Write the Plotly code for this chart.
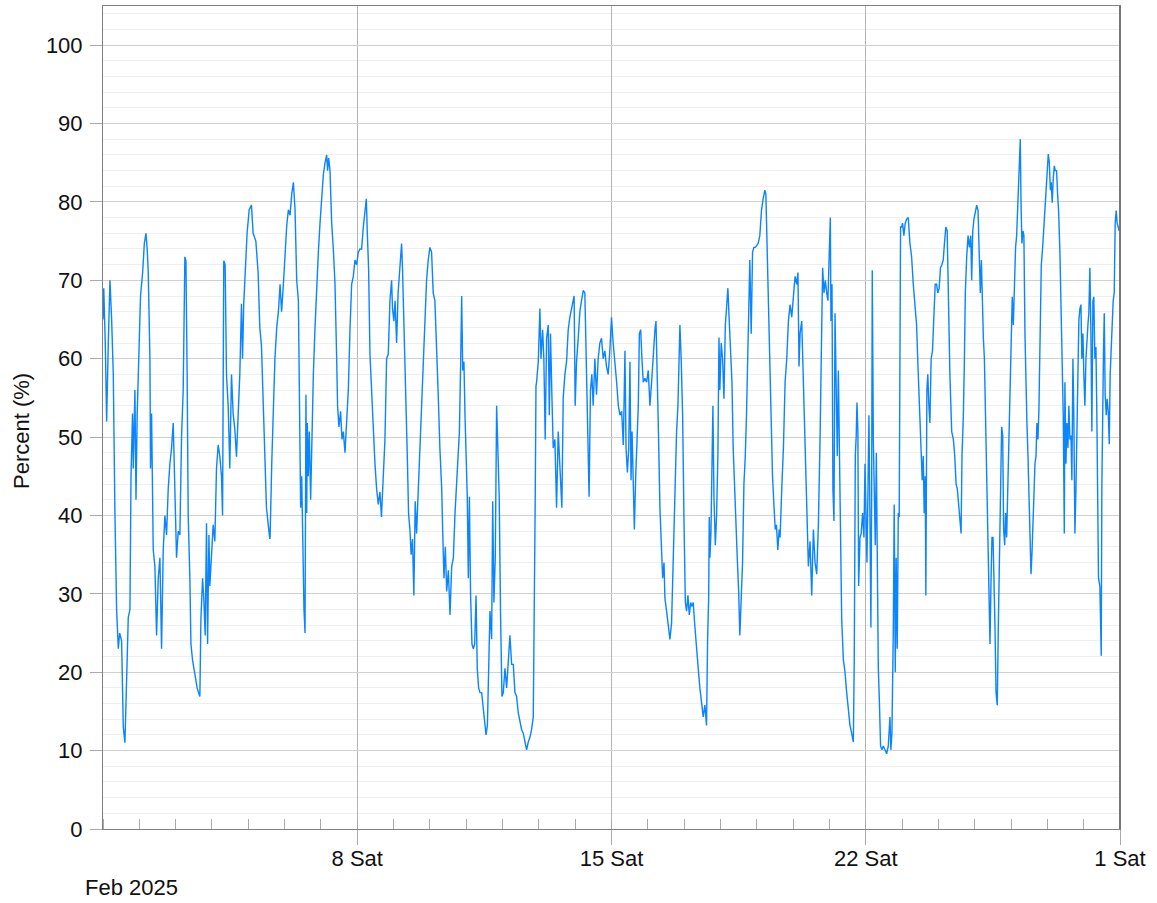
import pandas as pd
import plotly.graph_objects as go

START = "2025-02-01 00:00"

# Hours since start and percent readings, in six consecutive segments
hours_a = [0,0.5,1.5,2.4,3.5,4.6,5.7,6.8,7.9,9,10.1,11,12.3,13.4,14.5,15.6,16.7,17.8,18.5,19.5,20,21.1,21.8,22.6,24,24.8,26.2,27.3,28.4,29.2,29.9,31,31.4,32.1,33.2,34.3,35.4,36.5,37.6,38.7,39.8,40.9,42,43.1,44.2,45.3,46.4,47.5,48.6,49.7,50.8,51.9,53,54.1,54.8,55.6,56.3,57.4,58.1,59.2,60.7,62.2,64,64.7,65.8,66.6,67.5,68.4,69.1,70,70.6,71.7,72.8,73.9,75,76.1,77.2,78.3,79,79.8,80.7,81.6,82.7,83.8,84.9,86,87.1,88.2,89.3,90.4,91.5,92.2,93,94.1,95.2,96.6,98.1,99.2,101,102.5,103.6,104.7,105.8,106.9,108,109.1,110.2]
pct_a = [65,69,62,52,62,70,65,58,40,28,23,25,24,13,11,21,27,28,45,53,46,56,42,53,63,68,71,74.7,76,74,71,60,46,53,35.6,33.5,24.7,32,34.6,23,35.6,40,37.5,43.4,46.6,48.6,51.8,42,34.6,38,37.5,50,56,73,72.5,58,40,32,23.6,21.5,19.5,18,16.9,26.8,32,29.4,24.7,39,23.6,37.5,31,35,38.8,36.7,46,49,47.5,45,40,72.5,72,58,54,46,58,53,51,47.5,53,58,67,60,67,71,76,79,79.6,76,75,71,64,61.7,55.4,46.6,41,39,37]

hours_b = [110.4,111.5,112.5,113.6,114.8,115.9,117,118,119.2,120.3,121.4,122.5,123.6,124.7,125.8,126.9,128,129.1,129.7,130.6,131.3,131.9,132.8,133.5,134.1,134.6,135,135.6,136.3,137.2,137.9,139,140.1,141.2,142.3,143.4,144.5,145.6,146.7,147.8,148.4,149.1,150,151.1,152.2,153.3,154.4,155,155.9,157,157.9,158.8,159.9,161,162.1,163.2,164.3,165.4,166.5,167.6,168.7,169.8,170.9,172,173.1,174,174.6,175.5,176.4,177.5,178.6,179.7,180.8,181.9,183,184,185.2,186.3,187.4,188.5,189.6,190.7,191.3,192.2,193,194,195,196.2,197.3,197.9,198.8,199.7,200.6,201.2,201.9,202.8,203.6,204.5,205.4,206.3,207.2,208.3,209.4,210.4,211.5,212.7,213.8,214.9,216,217.1,218.2,219.3,220.4,221.5,222.6]
pct_b = [37.2,46.6,52.8,60,64,66,69.5,66,69.5,74,77,79,78.3,81,82.5,79,70,67.4,55.4,41,45,37,28,25,55.4,40.3,51.8,45,50.7,42,48.6,58,64,69.5,73.6,77.3,81,83.5,85,86,84,85.6,84,77.3,74,69.5,60,54,51.3,53.3,49.7,50.7,48,52.8,56,63.7,69.5,70.5,72.6,72,73.6,74,74,76.8,79,80.4,76.3,71.5,60.6,56,50.2,46.6,43.4,41.4,43,39.8,45,49.7,60,60.6,67.4,70,66.4,64.8,67.4,62,68.4,72,74.7,71.5,65.3,58,51.8,46.6,40.3,38.2,35,37,29.8,41.8,37.7,43.4,49.7,53.3,58.5,65.3,70,72.6,74.2,73.6,68.4,67.4,60,55.4,48.6]

hours_c = [223.8,224.5,225.3,226.2,227.1,228.2,229.3,230.4,231.5,232.6,233.7,234.8,235.5,236.3,237,237.7,238.5,239.2,239.9,240.7,241.4,242.1,242.9,243.8,244.7,245.6,246.5,247.3,248.2,249.1,250.2,251.3,252.2,253.1,254,254.8,255.7,256.8,257.5,258.3,259.2,260.1,261,261.8,262.7,263.6,264.5,265.6,266.7,267.8,268.9,270,271.1,272.2,273.3,274.4,275.5,276.6,277.7,278.8,279.9,281,282.1,283.2,284.3,284.7,285.2,285.6,286.1,286.5,287.6,288.7,289.4,290.5,291.3,292.2,293.1,294.2,294.9,295.7,296.6,297.5,298.6,299.7,300.8,301.9,303.2,304.1,305.2,306.3,307.4,308.5,309.6,310.7,311.3,312,312.9,314,315.1,316.2,317.3,318.4,319.5,320.4,321.2,322.1,323,323.9,325,326.1,327.2,328.3,329.4,330.5,331.6,332.7,333.8,334.9,336,337.1,338.2]
pct_c = [43.4,37.7,32,36,30.3,33,27.3,33.5,34.6,40.3,44,48,50.7,59,68,58.5,59.6,52.8,47.6,42.4,32,42.4,29.8,23.6,23,23.6,29.8,20.5,18,17.4,17.4,15.4,13.2,12,13.2,21.6,27.8,24.2,41.8,28.9,34.6,54,47.6,42.4,27.3,16.9,17.4,20.5,18,21.6,24.7,21,21,17.4,16.9,14.8,13.8,12.7,12.2,11.1,10.1,11.1,11.7,12.7,14.3,22.6,29.8,42.4,56.5,57,59.6,66.4,60,63.7,60,49.7,62.6,64.3,52.8,63.2,55.4,48.6,49.7,41,50.7,46.6,41,55,58,59.6,63.7,65.3,66.4,67.4,68,54,59.6,62.6,66,67.4,68.7,68.4,56.5,49.7,42.4,56,58,54,60,55.4,60,62,62.6,60,61,59,58,61,65.3,62,60]

hours_d = [339.4,340.5,341.6,342.7,343.8,344.9,345.6,346.5,347.4,348.2,348.9,349.6,350.4,351.1,352,352.6,353.7,354.4,355.3,356.1,357,358.1,359.2,360.3,361.4,362.5,363.6,364.7,365.4,366.3,366.9,368,369.1,369.8,370.7,371.3,372.4,373.5,374.6,375.7,376.8,377.9,379,379.9,380.8,381.2,382.1,383,383.9,384.8,385.6,386.5,387.4,388.3,389.2,390,391.1,392.2,393.3,394.4,395.5,396.6,397.7,398.8,399.5,400.2,400.6,401,401.7,402.4,403,403.7,404.6,405.4,406.3,407,407.6,408.5,409.4,410.3,411.2,412,412.9,413.8,414.7,415.6,416.4,417.3,418.2,419.1,420,420.8,421.7,422.6,423.5,424.4,425.2,426.1,427,427.4,428.3,429.2,430.1,431,431.8,432.9,434,435.1,436.2,437.3,438,438.9,439.5,440.6,441.5,442.4,443.3,444.2,445,445.9,446.8]
pct_d = [57,54,52.8,53.3,49,61,48.6,45.5,48.6,59.6,44.5,50.7,42.4,38.2,45,48.6,54,63.2,63.7,60,57,57.5,57,58.5,54,57,60.6,63.7,64.8,58,51.8,41,34,32,34,29.4,27.8,25.8,24.2,26.3,35.6,44,50.7,54,60,64.3,59.6,52.8,39.3,28.9,27.8,29.8,27.3,28.9,28.4,28.9,25.8,22.6,20.5,18,15.8,14.3,15.8,13.2,24.2,29.4,39.8,34.6,37.7,47.6,54,42.4,36.2,39.8,47.6,62.7,56,62,60,54.9,64.3,66.4,69,64.8,61,57,48.6,43.4,37.2,34.6,30.4,24.7,29.4,34,44,47.6,52.8,61,68.4,72.6,63.2,73.6,74.2,74.2,74.4,74.7,75.7,78.9,80.4,81.5,81,73.6,67.4,57,49.7,45,41.4,38.2,38.8,35.6,38.2]

hours_e = [447.4,448.5,449.6,450.7,451.8,452.9,454,455.1,456.2,457.3,458.4,459.2,459.9,460.6,461.7,462.8,463.9,465,466.1,467.2,468.3,469.4,470.5,471.6,472.7,473.8,474.9,475.5,476.4,477.3,478.2,479,479.9,480.6,481,481.7,482.3,483,483.7,484.3,485.2,485.9,486.5,487.4,488.1,489.2,490.3,491.4,492.5,493.6,494.7,495.8,496.4,497.1,497.7,498.2,498.8,499.3,500.2,501,501.9,502.8,503.5,504.1,504.8,505.4,506.1,506.8,507.4,507.9,508.3,509,509.6,510.3,511,511.6,512.3,513,513.8,514.7,515.6,516.7,517.8,518.9,520,520.6,521.3,522.2,522.8,523.5,524.1,524.8,525.5,526.1,526.6,527,527.7,528.3,529.2,530.1,531,532.1,533.2,534.3,535.4,536.5,537.6,538.4,539.1,539.8,540.6,541.3,542,542.6,543.3,543.7,544.4,545,545.7,546.4,547.2,548.1,549,549.9,550.8,551.6,552.5,553.4,554.3,555.2,556,556.9,557.8,558.7,559.6]
pct_e = [37.2,43.4,48.6,57,60,64.8,66.9,65.3,68.4,70.5,69.5,71,59,63.2,64.8,56,47.6,38.8,33.5,36.7,29.8,38.2,34,32.5,38.8,49.7,67.4,71.6,68.4,70,68.4,67.4,73.6,78,64.8,69.5,43.4,39.3,65.8,58,47.6,58.5,50.2,35,26.8,21.6,20,17.4,14.8,13.2,12.2,11.1,21.6,47.6,50.2,54.4,50.7,31,37.2,37.7,40.3,37.2,46.6,39.3,34,42.4,52.8,39.3,25.7,42.4,71.3,49.7,43.4,36.2,48,27.8,20.5,16.4,10.6,10.1,10.6,10.1,9.6,10.6,14.3,10.1,12.2,25.2,41.4,20,34.6,23,40.3,39.8,55.4,76.8,76.8,77.3,75.7,77.3,77.8,78,74.7,73,69.5,66.9,64.3,59.6,56,52.8,49.7,44.5,47.6,40.3,45,29.8,56,58,54,51.8,60,61,65.3,69.5,69.5,68.4,69,71.6,72,72.6,74.7,76.8,76.3,66.9,58]

hours_f = [560.8,561.9,562.8,563.7,564.5,565.4,566.3,567,567.6,568.5,569.2,569.8,570.7,571.6,572.5,573.4,574,574.7,575.5,576.4,577.3,578.2,579,579.7,580.4,581,581.7,582.4,583,583.9,584.6,585.2,586.1,586.8,587.4,588.1,588.7,589.4,590.1,590.9,591.6,592.3,593.1,593.8,594.5,595.1,595.8,596.4,597.1,597.8,598.4,599.3,600.2,600.8,601.5,602.4,603,603.7,604.4,605,605.7,606.1,606.6,607.2,607.9,608.5,609.2,609.9,610.5,611.2,611.8,612.5,613.2,613.8,614.5,615.1,615.8,616.5,617.1,617.8,618.4,619.1,620,620.9,621.7,622.4,623.1,623.9,624.6,625.3,626,626.6,627.2,627.9,628.6,629.2,630.1,630.8,631.4,632.3,633.2,633.8,634.5,635.2,635.6,636.3,636.9,637.6,638.2,638.9,639.6,640.2,640.9,641.5,642.2,642.9,643.5,644.2,644.8,645.5,646.2,646.8,647.5,648.1,648.8,649.5,650.1,650.8,651.4,652.1,652.8,653.4,654.1,654.7,655.4,656.1,656.7,657.2,657.8,658.7,659.6,660,660.5,661.1,661.6,662.2,662.9,663.5,664.2,664.9,665.5,666.2,666.8,667.5,668.2,668.8,669.5,670.1,670.8,671.4,672]
pct_f = [50.7,49.7,47.6,44,43.4,41.4,40.3,37.7,47.6,52.8,60,68.4,73,75.7,74.2,75.7,70,76.3,77.8,78.9,79.6,78.9,74.2,68.4,72.6,67.4,62.7,60,53.9,45.5,34,28.4,23.6,32,37.2,37.2,32.5,25.8,17.4,15.8,25.8,34,46.1,51.3,50.2,38.2,36.2,40.3,37.2,43.4,46.6,58,65.3,67.9,64.3,72.6,74.2,75.7,78.9,82,86.7,88,79.9,74.7,76.3,75.7,63.2,55.9,51.8,47.6,42.4,35.6,32.5,35,38.2,42.4,46.6,47.6,51.8,49.7,53.3,63.2,72,74.2,76.8,78.3,80.4,84,86.1,85,81.5,82.5,79.9,83,84.6,84,84,80.9,78.9,73.6,66.4,60,52.8,37.7,57,46.6,51.8,48.6,54,49.7,50.2,44.5,60,52.8,37.7,43.4,50.2,61.5,64.8,66.4,66.9,60,63.2,58,54,60,63.2,64.3,65.8,71.6,63.2,50.7,67.4,67.9,60,61.5,52.8,39.8,32,31,22.1,43.4,58,61,65.8,55.4,52.8,54.9,53.3,49.1,58,61.5,65.3,67.4,68.4,77.3,78.9,77.3,76.8,76.3,76.6]

week_ticks = ["2025-02-08", "2025-02-15", "2025-02-22", "2025-03-01"]
week_labels = ["8 Sat", "15 Sat", "22 Sat", "1 Sat"]
month_label = "Feb 2025"
y_title = "Percent (%)"

segments = [(hours_a, pct_a), (hours_b, pct_b), (hours_c, pct_c),
            (hours_d, pct_d), (hours_e, pct_e), (hours_f, pct_f)]
hrs, vals = [], []
for h, v in segments:
    n = min(len(h), len(v))
    hrs += h[:n]
    vals += v[:n]

times = pd.Timestamp(START) + pd.to_timedelta(hrs, unit="h")

FONT = "Liberation Sans, Arial, Helvetica, sans-serif"
FS = 22

fig = go.Figure(go.Scatter(x=times, y=vals, mode="lines",
                           line=dict(color="#0A84FF", width=1.4),
                           hoverinfo="x+y"))

fig.update_layout(
    width=1157, height=903,
    margin=dict(l=103, r=37, t=6, b=74),
    plot_bgcolor="white", paper_bgcolor="white",
    font=dict(family=FONT, size=FS, color="#111111"),
    showlegend=False,
)

fig.update_xaxes(
    type="date", range=["2025-02-01", "2025-03-01"],
    tickmode="array", tickvals=week_ticks, ticktext=week_labels,
    ticks="outside", ticklen=15, tickcolor="#aaaaaa", tickwidth=1,
    ticklabelstandoff=-5,
    showgrid=True, gridcolor="#b4b4b4", gridwidth=1,
    showline=True, linecolor="#808080", linewidth=1, mirror=True,
    zeroline=False,
    minor=dict(ticks="inside", ticklen=10, tickcolor="#aaaaaa",
               dtick=86400000, tick0="2025-02-01", showgrid=False),
)

fig.update_yaxes(
    range=[0, 105], tick0=0, dtick=10,
    ticks="outside", ticklen=12, tickcolor="#aaaaaa",
    ticklabelstandoff=3,
    showgrid=True, gridcolor="#d0d0d0", gridwidth=1,
    showline=True, linecolor="#808080", linewidth=1, mirror=True,
    zeroline=False,
    minor=dict(dtick=2, showgrid=True, gridcolor="#efefef", ticks=""),
)

fig.add_shape(type="line", xref="paper", yref="paper", x0=1, x1=1, y0=0, y1=1,
              line=dict(color="#777777", width=2))

# y-axis title, centred about 431 px from the top, 22 px from the left
fig.add_annotation(text=y_title, xref="paper", yref="paper",
                   x=(22 - 103) / 1017, y=(829 - 431) / 823,
                   xanchor="center", yanchor="middle", textangle=-90,
                   showarrow=False, font=dict(family=FONT, size=FS, color="#111111"))

fig.add_annotation(text=month_label, xref="paper", yref="paper",
                   x=-0.0197, y=-0.0705, xanchor="left", yanchor="middle",
                   showarrow=False, font=dict(family=FONT, size=FS, color="#111111"))

fig.write_html("out.html", config={"displayModeBar": False},
               post_script="document.body.style.margin='0';")
